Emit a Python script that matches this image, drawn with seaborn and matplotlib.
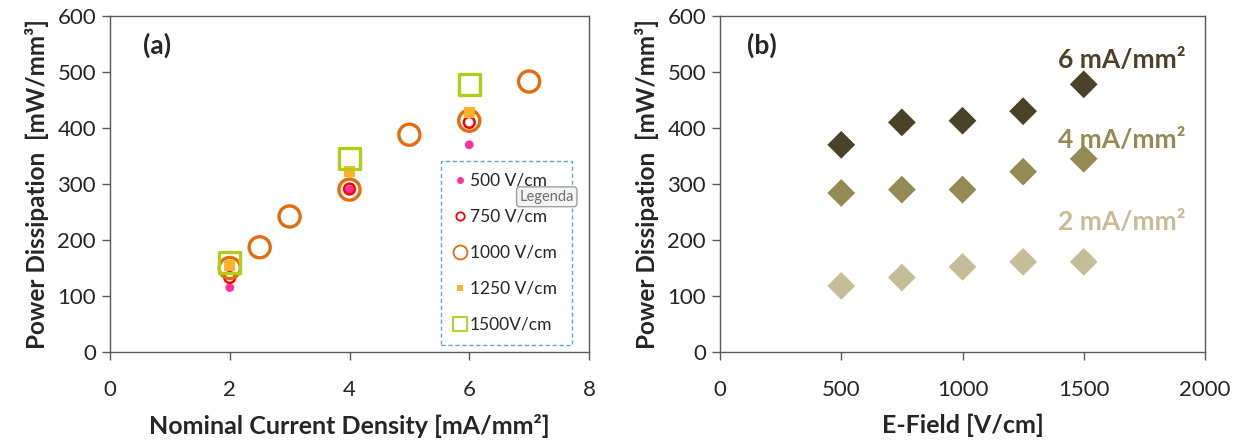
import matplotlib
matplotlib.use("Agg")
import matplotlib.pyplot as plt
import seaborn as sns
import numpy as np
import pandas as pd

# panel (a): power dissipation vs nominal current density, one series per E-field
J_500 = [2, 4, 6]
P_500 = [115, 290, 370]
J_750 = [2, 4, 6]
P_750 = [133, 291, 410]
J_1000 = [2, 2.5, 3, 4, 5, 6, 7]
P_1000 = [150, 187, 242, 290, 388, 413, 483]
J_1250 = [2, 4, 6]
P_1250 = [155, 322, 428]
J_1500 = [2, 4, 6]
P_1500 = [160, 345, 478]

# panel (b): power dissipation vs E-field, one series per current density
E_FIELD = [500, 750, 1000, 1250, 1500]
P_6MA = [370, 410, 413, 430, 478]
P_4MA = [284, 290, 290, 322, 345]
P_2MA = [118, 133, 152, 161, 161]

sns.set_style("white")
plt.rcParams['font.family'] = ['Lato', 'DejaVu Sans']
plt.rcParams['axes.edgecolor'] = '#595959'

fig = plt.figure(figsize=(12.37, 4.47), dpi=100)
ax_a = fig.add_axes([110 / 1237, 95 / 447, 479 / 1237, 336 / 447])
ax_b = fig.add_axes([720 / 1237, 95 / 447, 485 / 1237, 336 / 447])

series_a = [
    ("500 V/cm", J_500, P_500, "o", 40, "#FF3399", True, 0),
    ("750 V/cm", J_750, P_750, "o", 60, "#FF0000", False, 1.8),
    ("1000 V/cm", J_1000, P_1000, "o", 230, "#E46C0A", False, 2.4),
    ("1250 V/cm", J_1250, P_1250, "s", 60, "#FFB12E", True, 0),
    ("1500V/cm", J_1500, P_1500, "s", 230, "#B3CC1A", False, 2.4),
]

handles = []
for label, xs, ys, mk, size, col, filled, lw in series_a:
    df = pd.DataFrame({"J": xs, "P": ys})
    if filled:
        sns.scatterplot(data=df, x="J", y="P", marker=mk, s=size, color=col,
                        edgecolor="none", ax=ax_a, zorder=3)
    else:
        sns.scatterplot(data=df, x="J", y="P", marker=mk, s=size,
                        facecolors="none", edgecolor=col, linewidth=lw,
                        ax=ax_a, zorder=3)
    h = plt.Line2D([], [], linestyle="none", marker=mk,
                   markersize=5 if filled else (6 if size < 100 else 10),
                   markerfacecolor=col if filled else "white",
                   markeredgecolor=col, markeredgewidth=1.3 if not filled else 0)
    handles.append((h, label))

leg = ax_a.legend([h for h, _ in handles], [l for _, l in handles],
                  loc="lower left", bbox_to_anchor=(0.69, 0.021, 0.275, 0.557),
                  mode="expand", frameon=True, fontsize=12.5, handlelength=0.8,
                  handletextpad=0.2, labelspacing=1.15, borderpad=0.7,
                  borderaxespad=0, fancybox=False)
leg.get_frame().set_edgecolor("#3A8DD8")
leg.get_frame().set_linestyle((0, (3, 2)))
leg.get_frame().set_linewidth(1.0)
for t in leg.get_texts():
    t.set_color("#262626")

# screen tooltip captured in the original figure
ax_a.text(0.855, 0.462, "Legenda", transform=ax_a.transAxes, fontsize=10.5,
          color="#6E6E6E", ha="left", va="center", zorder=10,
          bbox=dict(boxstyle="round,pad=0.2", fc="#F4F4F4", ec="#A0A0A0", lw=1),
          clip_on=True)

ax_a.text(0.55, 548, "(a)", fontsize=19, fontweight="bold", va="center")
ax_a.set_xlim(0, 8)
ax_a.set_ylim(0, 600)
ax_a.set_xticks([0, 2, 4, 6, 8])
ax_a.set_yticks(range(0, 601, 100))
ax_a.set_xlabel("Nominal Current Density [mA/mm²]", fontsize=18,
                fontweight="bold", labelpad=10)
ax_a.set_ylabel("Power Dissipation  [mW/mm³]", fontsize=17.5, fontweight="bold",
                labelpad=6)

series_b = [
    ("6 mA/mm²", P_6MA, "#4A4229", 521),
    ("4 mA/mm²", P_4MA, "#948A54", 379),
    ("2 mA/mm²", P_2MA, "#C4BD97", 232),
]
for label, ys, col, ty in series_b:
    df = pd.DataFrame({"E": E_FIELD, "P": ys})
    sns.scatterplot(data=df, x="E", y="P", marker="D", s=200, color=col,
                    edgecolor="none", ax=ax_b, zorder=3)
    ax_b.text(1395, ty, label, color=col, fontsize=19, fontweight="bold",
              va="center", ha="left")

ax_b.text(110, 548, "(b)", fontsize=19, fontweight="bold", va="center")
ax_b.set_xlim(0, 2000)
ax_b.set_ylim(0, 600)
ax_b.set_xticks(range(0, 2001, 500))
ax_b.set_yticks(range(0, 601, 100))
ax_b.set_xlabel("E-Field [V/cm]", fontsize=18, fontweight="bold", labelpad=10)
ax_b.set_ylabel("Power Dissipation  [mW/mm³]", fontsize=17.5, fontweight="bold",
                labelpad=6)

for ax in (ax_a, ax_b):
    for sp in ax.spines.values():
        sp.set_visible(True)
        sp.set_linewidth(1.0)
    ax.tick_params(axis="both", which="major", direction="out", length=6,
                   width=1, color="#595959", labelsize=16, labelcolor="#262626",
                   bottom=True, left=True, pad=4)
    ax.tick_params(axis="x", pad=14)

fig.savefig("out.png", dpi=100)
